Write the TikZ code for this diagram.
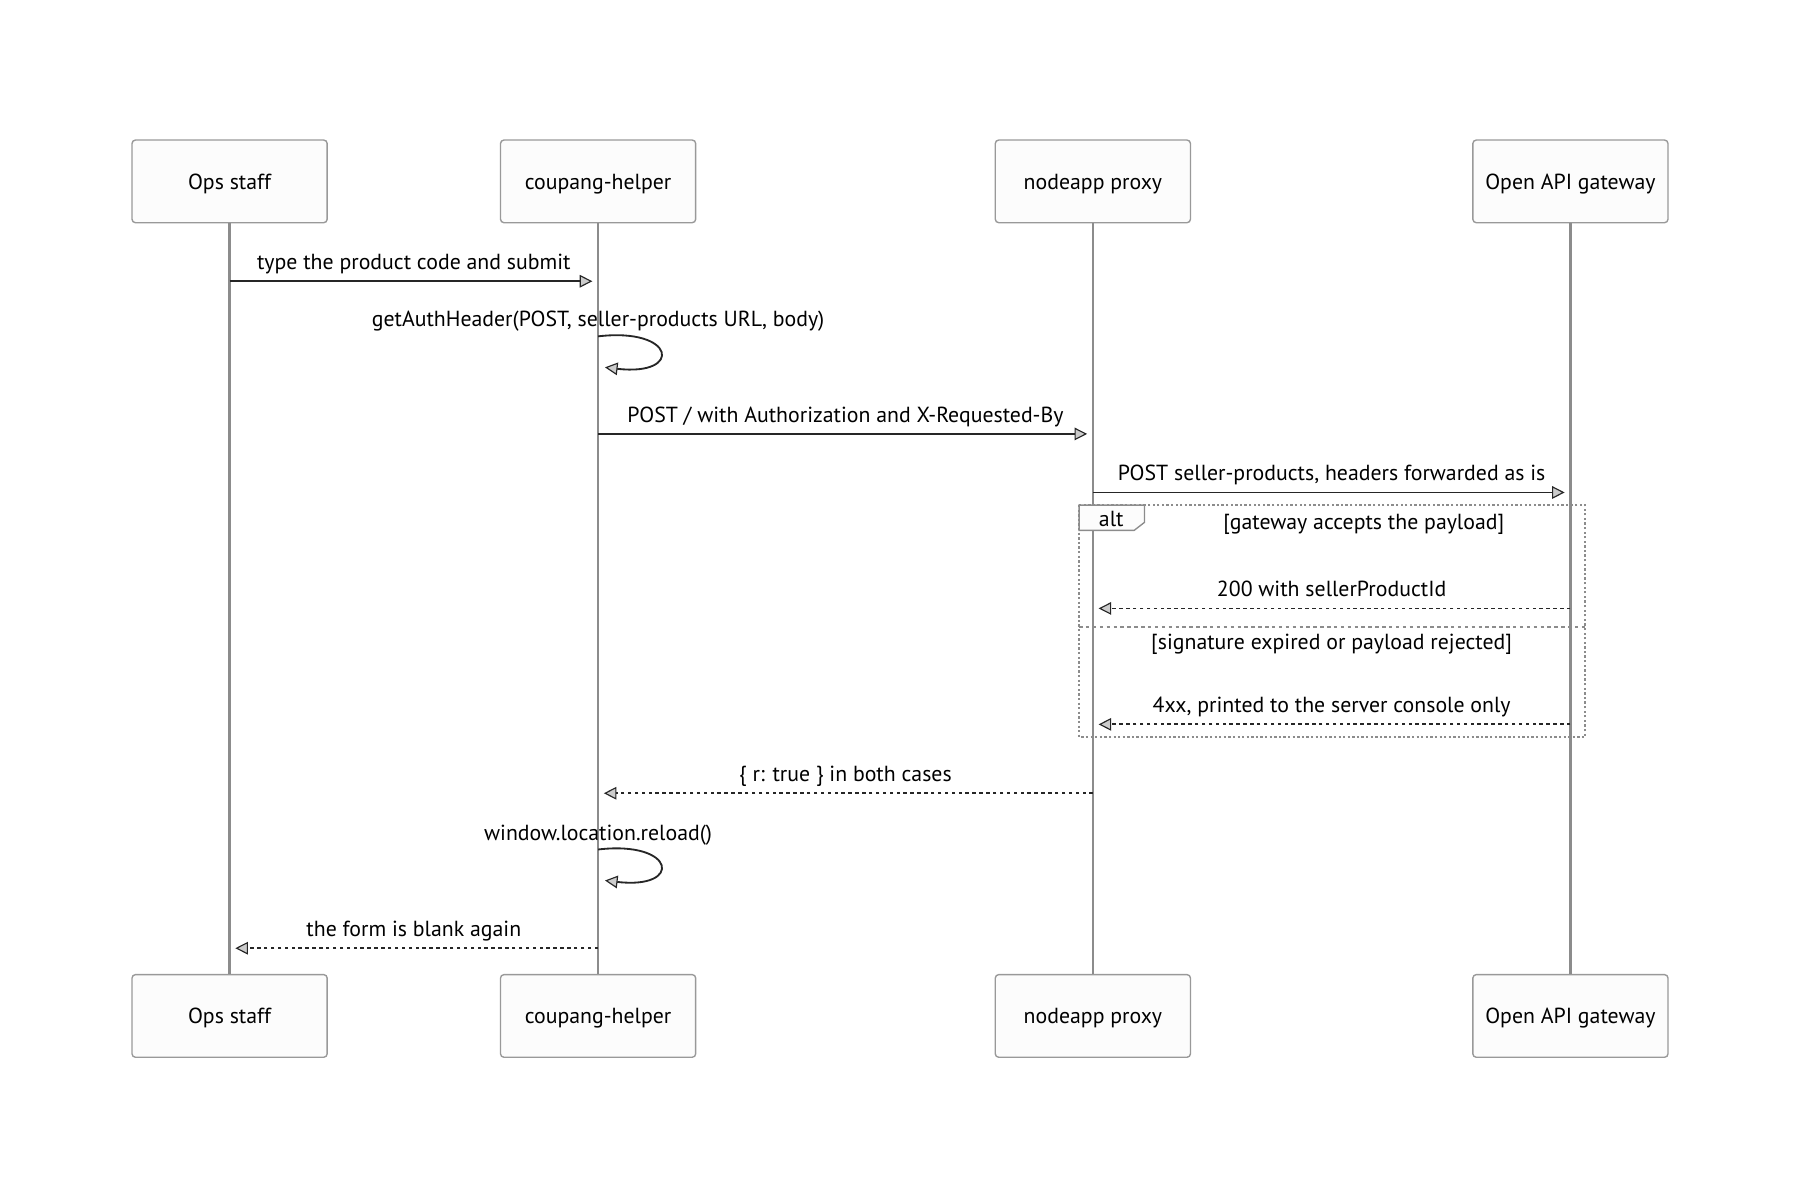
\documentclass[tikz,border=0pt]{standalone}
\usepackage{fontspec}
\setmainfont{PT Sans}
\usetikzlibrary{arrows.meta, calc}

\begin{document}
\begin{tikzpicture}[x=1pt, y=-1pt, font=\fontsize{19}{22}\selectfont,
  actor/.style={draw=black!40, fill=black!1, rounded corners=3pt, line width=1.2pt, minimum width=170pt, minimum height=72pt, text height=15pt, text depth=1pt},
  life/.style={draw=black!45, line width=2pt},
  msg/.style={draw=black!85, line width=1.6pt, shorten >=5pt, -{Triangle[length=11pt, width=11pt, fill=black!20, line width=1pt]}},
  reply/.style={msg, dash pattern=on 3pt off 3pt},
  lbl/.style={anchor=base, yshift=10pt, inner sep=0pt},
  frame/.style={draw=black!45, line width=1.5pt, dash pattern=on 2pt off 2pt},
  divider/.style={draw=black!45, line width=1.5pt, dash pattern=on 3pt off 3pt}]
\useasboundingbox (0,0) rectangle (1568,1045.3);

\node[actor] (ops) at (200,158) {Ops staff};
\node[actor] (helper) at (521,158) {coupang-helper};
\node[actor] (proxy) at (952,158) {nodeapp proxy};
\node[actor] (gw) at (1368,158) {Open API gateway};
\node[actor] (opsB) at (200,885) {Ops staff};
\node[actor] (helperB) at (521,885) {coupang-helper};
\node[actor] (proxyB) at (952,885) {nodeapp proxy};
\node[actor] (gwB) at (1368,885) {Open API gateway};

\draw[life] (ops) -- (opsB);
\draw[life] (helper) -- (helperB);
\draw[life] (proxy) -- (proxyB);
\draw[life] (gw) -- (gwB);

% alt block
\draw[frame] (940,440) rectangle (1381,642);
\draw[divider] (940,546) -- (1381,546);
\draw[draw=black!45, fill=black!1, line width=1.2pt] (940,440) -- (997,440) -- (997,455) -- (988,462) -- (940,462) -- cycle;
\node[anchor=base] (alt) at (968,459) {alt};
\node[anchor=base] (ok) at (1188,461) {[gateway accepts the payload]};
\node[anchor=base] (ko) at (1160,566) {[signature expired or payload rejected]};

\draw[msg] (ops |- 0,245) -- node[lbl] {type the product code and submit} (helper |- 0,245);
\node[anchor=base] (sign) at (521,284) {getAuthHeader(POST, seller-products URL, body)};
\draw[msg, shorten >=0pt] (helper |- 0,293) .. controls +(68,-8) and +(68,8) .. ($(helper |- 0,320)+(6,0)$);
\draw[msg] (helper |- 0,378) -- node[lbl] {POST / with Authorization and X-Requested-By} (proxy |- 0,378);
\draw[msg] (proxy |- 0,429) -- node[lbl] {POST seller-products, headers forwarded as is} (gw |- 0,429);
\draw[reply] (gw |- 0,530) -- node[lbl] {200 with sellerProductId} (proxy |- 0,530);
\draw[reply] (gw |- 0,631) -- node[lbl] {4xx, printed to the server console only} (proxy |- 0,631);
\draw[reply] (proxy |- 0,691) -- node[lbl] {\{ r: true \} in both cases} (helper |- 0,691);
\node[anchor=base] (reload) at (521,732) {window.location.reload()};
\draw[msg, shorten >=0pt] (helper |- 0,740) .. controls +(68,-8) and +(68,8) .. ($(helper |- 0,767)+(6,0)$);
\draw[reply] (helper |- 0,826) -- node[lbl] {the form is blank again} (ops |- 0,826);
\end{tikzpicture}
\end{document}
